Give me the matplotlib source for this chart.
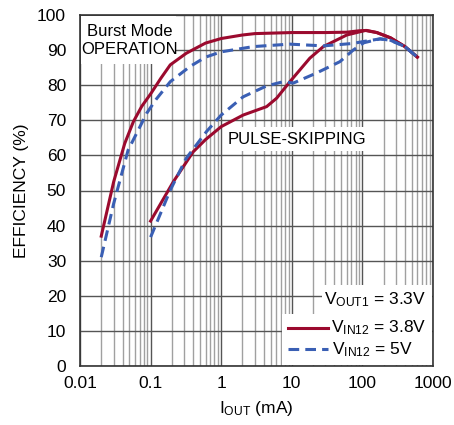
import matplotlib
matplotlib.use("Agg")
import matplotlib.pyplot as plt
from matplotlib.patches import Rectangle

plt.rcParams['font.family'] = ['Liberation Sans', 'DejaVu Sans']
plt.rcParams['mathtext.fontset'] = 'custom'
plt.rcParams['mathtext.rm'] = 'Liberation Sans'
plt.rcParams['mathtext.it'] = 'Liberation Sans'

RED = '#9b0a2e'
BLUE = '#3a5fb4'

# Burst Mode, VIN12 = 3.8V
burst_38_x = [0.02, 0.03, 0.043, 0.057, 0.075, 0.1, 0.14, 0.19, 0.32, 0.6, 1, 2, 3, 10, 30, 60, 90, 115, 160, 250, 400, 600]
burst_38_y = [37, 52.5, 63.4, 69.6, 74, 77.5, 82, 85.8, 89.1, 92, 93.3, 94.3, 94.7, 95, 95, 95.1, 95.5, 95.6, 95, 93.5, 91, 88]
# Burst Mode, VIN12 = 5V
burst_5_x = [0.02, 0.03, 0.048, 0.07, 0.088, 0.12, 0.19, 0.36, 0.6, 1, 2.85, 9.4, 28, 74, 100, 178, 250, 400, 600]
burst_5_y = [31, 46.3, 61.5, 68, 72, 76, 81, 85.3, 88, 89.5, 91, 91.7, 91.2, 91.9, 92.4, 93.2, 92.8, 91, 88]
# Pulse-skipping, VIN12 = 3.8V
pulse_38_x = [0.1, 0.21, 0.4, 0.6, 1, 2.05, 4.4, 6.1, 9.4, 18, 28, 60, 110, 160, 250, 400, 600]
pulse_38_y = [41.3, 52.5, 61, 64.5, 68.2, 71.5, 73.9, 76.3, 81, 87.7, 91, 94.3, 95.6, 95, 93.5, 91, 88]
# Pulse-skipping, VIN12 = 5V
pulse_5_x = [0.1, 0.19, 0.32, 0.62, 1, 2.05, 4.4, 7.6, 10.5, 22, 48, 74, 105, 178, 250, 400, 600]
pulse_5_y = [36.7, 50.1, 59.2, 66.8, 71.5, 76.7, 79.8, 81, 80.6, 83.4, 86.7, 90, 92.1, 93.2, 92.8, 91, 88]

W, H = 454, 425
fig = plt.figure(figsize=(W / 100, H / 100), dpi=100)
ax = fig.add_axes([80 / W, (H - 366) / H, 353 / W, 351 / H])


def box(x0, y0, x1, y1):
    # white patch in pixel coords (y down from top)
    ax.add_patch(Rectangle((x0 / W, (H - y1) / H), (x1 - x0) / W, (y1 - y0) / H,
                           transform=fig.transFigure, facecolor='white',
                           edgecolor='none', zorder=1))


def px(x, y):
    return x / W, (H - y) / H


ax.set_xscale('log')
ax.set_xlim(0.01, 1000)
ax.set_ylim(0, 100)
ax.set_yticks(range(0, 101, 10))
ax.set_xticks([0.01, 0.1, 1, 10, 100, 1000])
ax.set_xticklabels(['0.01', '0.1', '1', '10', '100', '1000'])
ax.set_axisbelow(True)
ax.grid(True, which='major', color='#555555', linewidth=1.0)
ax.grid(True, which='minor', axis='x', color='#a0a0a0', linewidth=1.0)
ax.tick_params(which='both', length=0, labelsize=12.5, colors='black')
ax.tick_params(axis='y', pad=10)
ax.tick_params(axis='x', pad=7)
for s in ax.spines.values():
    s.set_color('#333333')
    s.set_linewidth(1.2)

box(81, 16, 176, 64)
box(230, 127, 364, 151)
box(322, 285, 432, 314)
box(282, 314, 432, 365)

ax.plot(burst_38_x, burst_38_y, color=RED, linewidth=2.2, zorder=3)
ax.plot(pulse_38_x, pulse_38_y, color=RED, linewidth=2.2, zorder=3)
ax.plot(burst_5_x, burst_5_y, color=BLUE, linewidth=2.2, linestyle=(0, (3.5, 2)), zorder=3)
ax.plot(pulse_5_x, pulse_5_y, color=BLUE, linewidth=2.2, linestyle=(0, (3.5, 2)), zorder=3)

fig.text(*px(130, 41), 'Burst Mode\nOPERATION', ha='center', va='center',
         fontsize=12, linespacing=1.25, zorder=4)
fig.text(*px(297, 139), 'PULSE-SKIPPING', ha='center', va='center', fontsize=12, zorder=4)
fig.text(*px(426, 300), r'V$_{\rm OUT1}$ = 3.3V', ha='right', va='center', fontsize=12.5, zorder=4)
fig.text(*px(426, 328), r'V$_{\rm IN12}$ = 3.8V', ha='right', va='center', fontsize=12.5, zorder=4)
fig.text(*px(332, 350), r'V$_{\rm IN12}$ = 5V', ha='left', va='center', fontsize=12.5, zorder=4)
fig.lines.append(plt.Line2D([288 / W, 328 / W], [(H - 328) / H] * 2, transform=fig.transFigure,
                            color=RED, linewidth=2.2))
fig.lines.append(plt.Line2D([288 / W, 328 / W], [(H - 349) / H] * 2, transform=fig.transFigure,
                            color=BLUE, linewidth=2.2, linestyle=(0, (3.5, 2))))

ax.set_xlabel(r'I$_{\rm OUT}$ (mA)', fontsize=12.5, labelpad=6)
ax.set_ylabel('EFFICIENCY (%)', fontsize=12.5, labelpad=6)

fig.savefig('out.png', dpi=100)
